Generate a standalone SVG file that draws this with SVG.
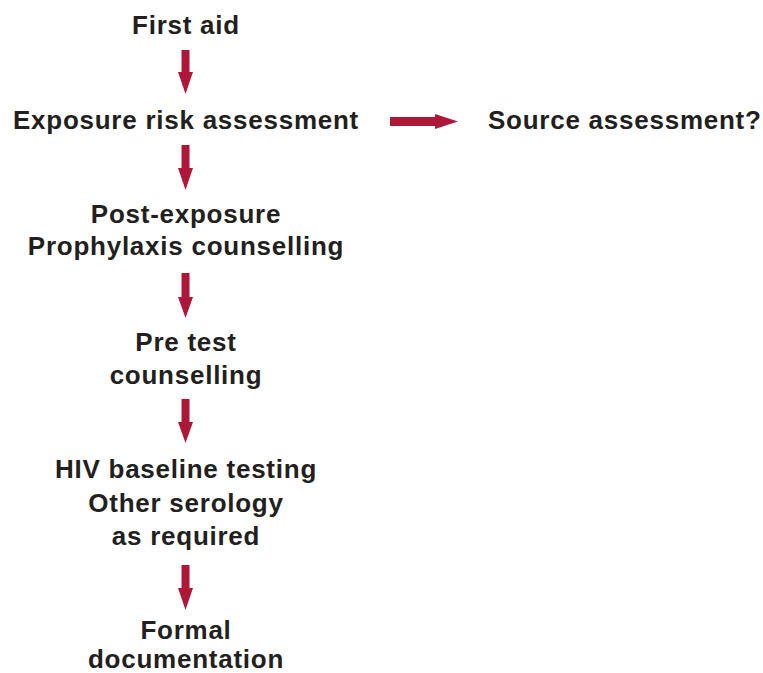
<svg xmlns="http://www.w3.org/2000/svg" width="763" height="673" viewBox="0 0 763 673">
<style>
text{font-family:"Liberation Sans",Arial,sans-serif;font-weight:bold;font-size:26px;fill:#231f20;letter-spacing:0.75px}
.c{text-anchor:middle}
.a{fill:#ad1839}
</style>
<rect width="763" height="673" fill="#fff"/>
<g id="connectors">
<polygon class="a" points="181.5,50 189.5,50 189.5,72 193,72 185.5,94 178,72 181.5,72"/>
<polygon class="a" points="181.5,145 189.5,145 189.5,168 193,168 185.5,190 178,168 181.5,168"/>
<polygon class="a" points="181.5,273 189.5,273 189.5,297 193,297 185.5,318 178,297 181.5,297"/>
<polygon class="a" points="181.5,399 189.5,399 189.5,422 193,422 185.5,443 178,422 181.5,422"/>
<polygon class="a" points="181.5,565 189.5,565 189.5,588 193,588 185.5,610 178,588 181.5,588"/>
<polygon class="a" points="390,117 435,117 435,114 458,121.5 435,129 435,126 390,126"/>
</g>
<g id="first-aid"><text class="c" x="186" y="34">First aid</text></g>
<g id="exposure"><text class="c" x="186" y="129">Exposure risk assessment</text></g>
<g id="source"><text x="488" y="129">Source assessment?</text></g>
<g id="pep"><text class="c" x="186" y="223">Post-exposure</text><text class="c" x="186" y="255">Prophylaxis counselling</text></g>
<g id="pretest"><text class="c" x="186" y="351">Pre test</text><text class="c" x="186" y="384">counselling</text></g>
<g id="hiv"><text class="c" x="186" y="478">HIV baseline testing</text><text class="c" x="186" y="512">Other serology</text><text class="c" x="186" y="545">as required</text></g>
<g id="formal"><text class="c" x="186" y="639">Formal</text><text class="c" x="186" y="668">documentation</text></g>
</svg>
